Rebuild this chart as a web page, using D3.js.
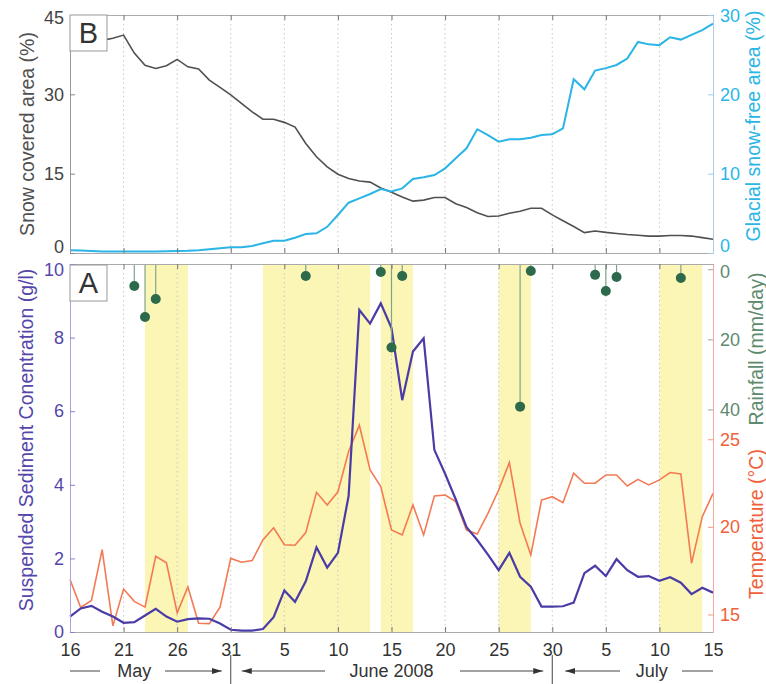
<!DOCTYPE html>
<html><head><meta charset="utf-8">
<script src="https://cdn.jsdelivr.net/npm/d3@7"></script>
<style>body{margin:0;background:#fff} svg text{font-family:"Liberation Sans",Arial,sans-serif}</style>
</head><body><svg id="c" width="766" height="684"></svg>
<script>
// ---------------- DATA ----------------
const startDate = "2008-05-16";
const endDate = "2008-07-15";
const tickLabels = ["16","21","26","31","5","10","15","20","25","30","5","10","15"];
// Panel B: snow covered area (%) left axis, glacial snow-free area (%) right axis (daily)
const snowCovered = [39.0,39.5,39.8,40.2,40.6,41.2,37.8,35.5,34.9,35.4,36.6,35.2,34.8,32.7,31.3,29.9,28.3,26.7,25.3,25.3,
  24.7,23.8,20.7,18.2,16.3,14.9,14.1,13.6,13.4,12.3,11.5,10.6,9.8,10.0,10.5,10.5,9.3,8.6,7.6,6.9,
  7.0,7.5,7.9,8.45,8.45,7.2,6.1,5.0,3.85,4.16,3.9,3.7,3.5,3.35,3.2,3.2,3.3,3.3,3.2,2.9,2.6];
const snowFree = [0.35,0.3,0.25,0.2,0.2,0.18,0.18,0.2,0.2,0.22,0.25,0.28,0.35,0.47,0.6,0.72,0.72,0.88,1.22,1.55,
  1.55,1.93,2.39,2.48,3.3,4.79,6.34,6.89,7.44,8.07,7.75,8.15,9.33,9.54,9.83,10.67,11.93,13.2,15.6,14.87,
  14.03,14.33,14.33,14.54,14.87,14.96,15.7,21.9,20.63,23.0,23.3,23.7,24.5,26.6,26.3,26.2,27.2,26.9,27.5,28.1,28.9];
// Panel A: suspended sediment concentration (g/l), temperature (°C), rainfall (mm/day)
const ssc = [0.42,0.64,0.71,0.55,0.42,0.25,0.27,0.45,0.63,0.42,0.28,0.35,0.37,0.36,0.23,0.06,0.04,0.04,0.08,0.4,
  1.13,0.82,1.38,2.3,1.75,2.15,3.7,8.75,8.38,8.93,8.26,6.3,7.62,7.98,4.95,4.3,3.6,2.85,2.5,2.1,
  1.68,2.15,1.5,1.23,0.69,0.69,0.7,0.8,1.6,1.8,1.52,1.98,1.68,1.5,1.52,1.39,1.49,1.34,1.03,1.2,1.07];
const temperature = [17.0,15.4,15.8,18.7,14.35,16.45,15.75,15.42,18.32,17.95,15.1,16.57,14.5,14.48,15.42,18.2,17.98,18.08,19.25,19.95,
  18.98,18.95,19.67,21.97,21.25,22.0,24.3,25.8,23.25,22.3,19.82,19.54,21.25,19.54,21.76,21.82,21.44,19.82,19.59,20.77,
  22.1,23.67,20.2,18.4,21.53,21.72,21.38,23.06,22.49,22.49,22.96,22.96,22.33,22.71,22.39,22.68,23.1,23.02,17.92,20.58,21.91];
const rainDates = ["2008-05-22","2008-05-23","2008-05-24","2008-06-07","2008-06-14","2008-06-15","2008-06-16",
  "2008-06-27","2008-06-28","2008-07-04","2008-07-05","2008-07-06","2008-07-12"];
const rainfall = [4.8,13.6,8.5,1.9,0.8,22.3,1.9,39.2,0.5,1.6,6.2,2.2,2.5];
const bandStarts = ["2008-05-23","2008-06-03","2008-06-14","2008-06-25","2008-07-10"];
const bandEnds   = ["2008-05-27","2008-06-13","2008-06-17","2008-06-28","2008-07-14"];
const monthLabels = ["May","June 2008","July"];

// ---------------- CHART ----------------
const parse = d3.timeParse("%Y-%m-%d");
const t0 = parse(startDate), t1 = parse(endDate);
const dates = d3.timeDay.range(t0, d3.timeDay.offset(t1, 1));
const tickDates = d3.timeDay.range(t0, d3.timeDay.offset(t1, 1), 5);

const svg = d3.select("#c");
const L = 70, R = 713;
const topB = {y0: 15, y1: 253};
const topA = {y0: 264, y1: 632};

const x = d3.scaleTime().domain([t0, t1]).range([L, R]);
const yB1 = d3.scaleLinear().domain([0, 45]).range([topB.y1, topB.y0]);
const yB2 = d3.scaleLinear().domain([0, 30]).range([topB.y1, topB.y0]);
const yS = d3.scaleLinear().domain([0, 10]).range([topA.y1, topA.y0]);
const yRain = d3.scaleLinear().domain([-1.5, 103.5]).range([topA.y0, topA.y1]);
const yT = d3.scaleLinear().domain([14, 35]).range([topA.y1, topA.y0]);

const FS = 18;
const C = {gray:"#505050", cyan:"#2ab5e6", ssc:"#4a3ca6", sscTxt:"#5446aa", temp:"#f37a54", tempTxt:"#ef5f3a",
  rain:"#2c6a4b", rainTxt:"#5e8a6e", stem:"#7ea58c", band:"#fbf5b6", grid:"#c8c8c8"};

// Bands (panel A)
svg.append("g").selectAll("rect").data(bandStarts).join("rect")
  .attr("x", (d) => x(parse(d)))
  .attr("width", (d, i) => x(parse(bandEnds[i])) - x(parse(d)))
  .attr("y", topA.y0).attr("height", topA.y1 - topA.y0)
  .attr("fill", C.band);

// Grid
[topB, topA].forEach(p => {
  svg.append("g").selectAll("line").data(tickDates.slice(1, -1)).join("line")
    .attr("x1", d => x(d)).attr("x2", d => x(d))
    .attr("y1", p.y0).attr("y2", p.y1)
    .attr("stroke", C.grid).attr("stroke-width", 1).attr("stroke-dasharray", "1.5,3");
});

// Lines panel B
const lineB1 = d3.line().x((d, i) => x(dates[i])).y(d => yB1(d));
const lineB2 = d3.line().x((d, i) => x(dates[i])).y(d => yB2(d));
svg.append("path").datum(snowCovered).attr("d", lineB1).attr("fill", "none")
  .attr("stroke", C.gray).attr("stroke-width", 1.6);
svg.append("path").datum(snowFree).attr("d", lineB2).attr("fill", "none")
  .attr("stroke", C.cyan).attr("stroke-width", 2);

// Lines panel A
const lineT = d3.line().x((d, i) => x(dates[i])).y(d => yT(d));
const lineS = d3.line().x((d, i) => x(dates[i])).y(d => yS(d));
svg.append("path").datum(temperature).attr("d", lineT).attr("fill", "none")
  .attr("stroke", C.temp).attr("stroke-width", 1.6);
svg.append("path").datum(ssc).attr("d", lineS).attr("fill", "none")
  .attr("stroke", C.ssc).attr("stroke-width", 2.2);

// Rainfall stems
const rg = svg.append("g");
rg.selectAll("line").data(rainDates).join("line")
  .attr("x1", d => x(parse(d))).attr("x2", d => x(parse(d)))
  .attr("y1", yRain(-1.5)).attr("y2", (d, i) => yRain(rainfall[i]))
  .attr("stroke", C.stem).attr("stroke-width", 1.2);
rg.selectAll("circle").data(rainDates).join("circle")
  .attr("cx", d => x(parse(d))).attr("cy", (d, i) => yRain(rainfall[i]))
  .attr("r", 5).attr("fill", C.rain);

// Axes helper
function styleAxis(g, color, txtColor, domainColor) {
  g.attr("font-family", null).attr("font-size", FS);
  g.selectAll(".tick line").attr("stroke", color);
  g.selectAll(".tick text").attr("fill", txtColor);
  g.select(".domain").attr("stroke", domainColor || color);
}
// nudge extreme labels inward (so stacked panels don't collide)
function nudge(g, value, dy) {
  g.selectAll(".tick").filter(d => d === value).select("text").attr("y", dy);
}

// X axes (ticks inward on all horizontal borders)
[topB, topA].forEach((p, k) => {
  const gb = svg.append("g").attr("transform", `translate(0,${p.y1})`)
    .call(d3.axisBottom(x).tickValues(tickDates).tickSizeInner(-5).tickSizeOuter(0).tickPadding(11)
      .tickFormat((d, i) => k === 1 ? tickLabels[i] : ""));
  styleAxis(gb, "#777", "#333", "#aaa");
  const gt = svg.append("g").attr("transform", `translate(0,${p.y0})`)
    .call(d3.axisTop(x).tickValues(tickDates).tickSizeInner(-5).tickSizeOuter(0).tickFormat(""));
  styleAxis(gt, "#777", "#333", "#aaa");
});

// Y axes panel B
const gB1 = svg.append("g").attr("transform", `translate(${L},0)`)
  .call(d3.axisLeft(yB1).tickValues([0, 15, 30, 45]).tickSizeInner(-5).tickSizeOuter(0).tickPadding(6));
styleAxis(gB1, "#888", "#444", "#999");
nudge(gB1, 0, -6); nudge(gB1, 45, 3);
const gB2 = svg.append("g").attr("transform", `translate(${R},0)`)
  .call(d3.axisRight(yB2).tickValues([0, 10, 20, 30]).tickSizeInner(-5).tickSizeOuter(0).tickPadding(7));
styleAxis(gB2, "#9fcbe8", C.cyan, "#a9cfea");
nudge(gB2, 0, -7); nudge(gB2, 30, 1);

// Y axes panel A
const gS = svg.append("g").attr("transform", `translate(${L},0)`)
  .call(d3.axisLeft(yS).tickValues([0, 2, 4, 6, 8, 10]).tickSizeInner(-5).tickSizeOuter(0).tickPadding(6));
styleAxis(gS, "#8a80cc", C.sscTxt, "#aaa2dc");
nudge(gS, 10, 6);
const gR = svg.append("g").attr("transform", `translate(${R},0)`)
  .call(d3.axisRight(yRain).tickValues([0, 20, 40]).tickSizeInner(-5).tickSizeOuter(0).tickPadding(7));
styleAxis(gR, "#8fae98", C.rainTxt, "#f5aa9c");
nudge(gR, 0, 2);
const gT = svg.append("g").attr("transform", `translate(${R},0)`)
  .call(d3.axisRight(yT).tickValues([15, 20, 25]).tickSizeInner(-5).tickSizeOuter(0).tickPadding(7));
styleAxis(gT, "#f29a84", C.tempTxt, "#f5aa9c");

// Axis titles
function vlabel(txt, cx, cy, color) {
  svg.append("text").attr("transform", `translate(${cx},${cy}) rotate(-90)`)
    .attr("text-anchor", "middle").attr("dy", "0.35em")
    .attr("font-size", 19.5).attr("fill", color).text(txt);
}
vlabel("Snow covered area (%)", 27, 134, "#505050");
vlabel("Glacial snow-free area (%)", 753, 126, C.cyan);
vlabel("Suspended Sediment Conentration (g/l)", 26, 440, C.sscTxt);
vlabel("Rainfall (mm/day)", 756, 349, C.rainTxt);
vlabel("Temperature (°C)", 756, 524, C.tempTxt);

// Panel letters
[["B", topB.y0], ["A", topA.y0 + 1]].forEach(([lab, y0]) => {
  svg.append("rect").attr("x", L).attr("y", y0).attr("width", 37).attr("height", 36)
    .attr("fill", "#fff").attr("stroke", "#999").attr("stroke-width", 1);
  svg.append("text").attr("x", L + 18.5).attr("y", y0 + 18).attr("dy", "0.36em")
    .attr("text-anchor", "middle").attr("font-size", 29).attr("fill", "#333").text(lab);
});

// Month annotation row
const defs = svg.append("defs");
defs.append("marker").attr("id", "ah").attr("viewBox", "0 0 10 6").attr("refX", 10).attr("refY", 3)
  .attr("markerWidth", 10).attr("markerHeight", 6).attr("markerUnits", "userSpaceOnUse")
  .attr("orient", "auto").append("path").attr("d", "M0,0 L10,3 L0,6 Z").attr("fill", "#333");
const rowY = 671;
const sep1 = x(parse("2008-05-31")), sep2 = x(parse("2008-06-30"));
[sep1, sep2].forEach(sx => svg.append("line").attr("x1", sx).attr("x2", sx).attr("y1", 655).attr("y2", 684)
  .attr("stroke", "#444").attr("stroke-width", 1));
const segs = [
  [L, 100, false], [165, sep1 - 9, true], [325, sep1 + 11, true],
  [460, sep2 - 9, true], [620, sep2 + 13, true], [682, R, false]];
segs.forEach(([a, b, arrow]) => {
  const l = svg.append("line").attr("x1", a).attr("x2", b).attr("y1", rowY).attr("y2", rowY)
    .attr("stroke", "#444").attr("stroke-width", 1);
  if (arrow) l.attr("marker-end", "url(#ah)");
});
const monthCenters = [x(parse("2008-05-22")), x(parse("2008-06-15")), x(parse("2008-07-09")) + 3];
svg.append("g").selectAll("text").data(monthLabels).join("text")
  .attr("x", (d, i) => monthCenters[i]).attr("y", 677)
  .attr("text-anchor", "middle").attr("font-size", FS).attr("fill", "#333").text(d => d);
</script></body></html>
